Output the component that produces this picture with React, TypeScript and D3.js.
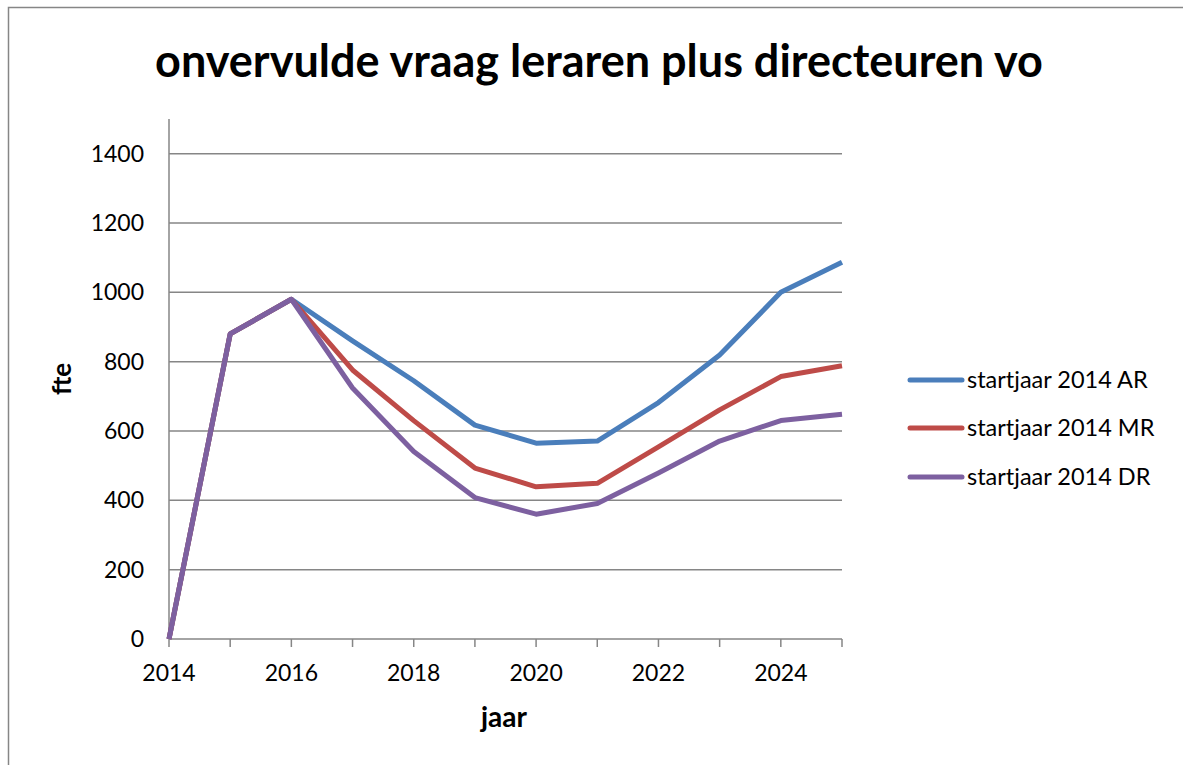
import { useEffect, useRef } from "react";
import * as d3 from "d3";

const years = [2014, 2015, 2016, 2017, 2018, 2019, 2020, 2021, 2022, 2023, 2024, 2025];
const valuesAR = [0, 880, 980, 860, 745, 617, 565, 571, 682, 819, 1000, 1087];
const valuesMR = [0, 880, 980, 776, 630, 493, 439, 449, 554, 661, 757, 788];
const valuesDR = [0, 880, 980, 724, 541, 408, 360, 391, 479, 571, 630, 648];
const seriesNames = ["startjaar 2014 AR", "startjaar 2014 MR", "startjaar 2014 DR"];
const seriesColors = ["#4a7ebb", "#be4b48", "#7d60a0"];
const yTicks = [0, 200, 400, 600, 800, 1000, 1200, 1400];
const xLabels = [2014, 2016, 2018, 2020, 2022, 2024];

const W = 1183;
const H = 765;
const font = "Lato, 'Open Sans', sans-serif";

export default function App() {
  const ref = useRef(null);

  useEffect(() => {
    const svg = d3.select(ref.current);
    svg.selectAll("*").remove();

    // outer border of the chart area
    svg.append("rect")
      .attr("x", 8.5).attr("y", 7.5)
      .attr("width", W).attr("height", H)
      .attr("fill", "white").attr("stroke", "#868686").attr("stroke-width", 1.5);

    const x = d3.scaleLinear().domain([2014, 2025]).range([169, 842]);
    const y = d3.scaleLinear().domain([0, 1500]).range([639, 119]);

    // gridlines
    svg.append("g").selectAll("line")
      .data(yTicks.filter((t) => t > 0))
      .join("line")
      .attr("x1", x(2014)).attr("x2", x(2025))
      .attr("y1", (d) => y(d)).attr("y2", (d) => y(d))
      .attr("stroke", "#868686").attr("stroke-width", 1.5);

    // y axis line
    svg.append("line")
      .attr("x1", x(2014)).attr("x2", x(2014))
      .attr("y1", y(1500)).attr("y2", y(0))
      .attr("stroke", "#868686").attr("stroke-width", 1.5);

    // x axis line + ticks
    svg.append("line")
      .attr("x1", x(2014)).attr("x2", x(2025))
      .attr("y1", y(0)).attr("y2", y(0))
      .attr("stroke", "#868686").attr("stroke-width", 1.5);
    svg.append("g").selectAll("line")
      .data(years)
      .join("line")
      .attr("x1", (d) => x(d)).attr("x2", (d) => x(d))
      .attr("y1", y(0)).attr("y2", y(0) + 8)
      .attr("stroke", "#868686").attr("stroke-width", 1.5);

    // tick labels
    svg.append("g").selectAll("text")
      .data(yTicks)
      .join("text")
      .attr("x", 144).attr("y", (d) => y(d) + 8)
      .attr("text-anchor", "end")
      .attr("font-family", font).attr("font-size", 23)
      .text((d) => d);
    svg.append("g").selectAll("text")
      .data(xLabels)
      .join("text")
      .attr("x", (d) => x(d)).attr("y", 681)
      .attr("text-anchor", "middle")
      .attr("font-family", font).attr("font-size", 23)
      .text((d) => d);

    // lines
    const line = d3.line<number>()
      .x((_, i) => x(years[i]))
      .y((d) => y(d));
    [valuesAR, valuesMR, valuesDR].forEach((vals, i) => {
      svg.append("path")
        .attr("d", line(vals))
        .attr("fill", "none")
        .attr("stroke", seriesColors[i])
        .attr("stroke-width", 5)
        .attr("stroke-linejoin", "round");
    });

    // title
    svg.append("text")
      .attr("x", 599).attr("y", 77)
      .attr("text-anchor", "middle")
      .attr("font-family", font).attr("font-weight", "bold").attr("font-size", 45)
      .text("onvervulde vraag leraren plus directeuren vo");

    // axis titles
    svg.append("text")
      .attr("transform", "translate(71,379) rotate(-90)")
      .attr("text-anchor", "middle")
      .attr("font-family", font).attr("font-weight", "bold").attr("font-size", 26)
      .text("fte");
    svg.append("text")
      .attr("x", 504).attr("y", 727)
      .attr("text-anchor", "middle")
      .attr("font-family", font).attr("font-weight", "bold").attr("font-size", 28)
      .text("jaar");

    // legend
    const legendY = [380, 428, 477];
    seriesNames.forEach((name, i) => {
      svg.append("line")
        .attr("x1", 910).attr("x2", 962)
        .attr("y1", legendY[i]).attr("y2", legendY[i])
        .attr("stroke", seriesColors[i]).attr("stroke-width", 5)
        .attr("stroke-linecap", "round");
      svg.append("text")
        .attr("x", 967).attr("y", legendY[i] + 8)
        .attr("font-family", font).attr("font-size", 23.5)
        .text(name);
    });
  }, []);

  return (
    <svg ref={ref} width={W} height={H}
      style={{ position: "absolute", left: 0, top: 0, background: "white" }} />
  );
}
